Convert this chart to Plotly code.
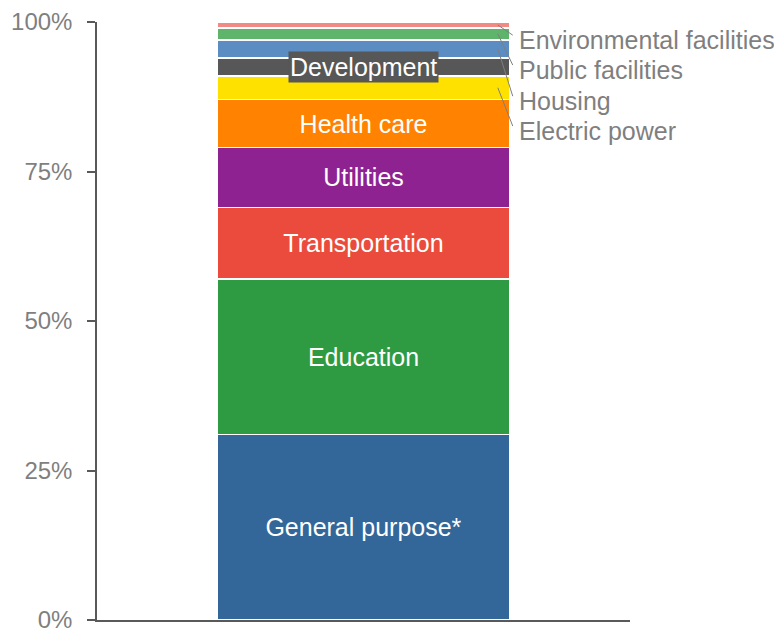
import plotly.graph_objects as go

categories = ["General purpose*", "Education", "Transportation", "Utilities", "Health care",
              "Electric power", "Development", "Housing", "Public facilities", "Environmental facilities"]
shares = [31, 26, 12, 10, 8, 4, 3, 3, 2, 1]
inside_labels = ["General purpose*", "Education", "Transportation", "Utilities", "Health care",
                 "", "", "", "", ""]
colors = ["#336699", "#2e9a42", "#ea4b3c", "#8e2291", "#ff8200",
          "#ffe100", "#575757", "#5b8cc2", "#5db46a", "#f28a84"]
side_labels = ["Environmental facilities", "Public facilities", "Housing", "Electric power"]
side_label_y = [97, 92, 86.8, 81.8]
side_sources = ["Environmental facilities", "Public facilities", "Housing", "Electric power"]
tick_vals = [0, 25, 50, 75, 100]
tick_text = ["0%", "25%", "50%", "75%", "100%"]

FONT = "Liberation Sans, Arial, sans-serif"
fig = go.Figure()
for cat, val, lab, col in zip(categories, shares, inside_labels, colors):
    fig.add_trace(go.Bar(
        x=[0], y=[val], name=cat, width=0.548,
        marker=dict(color=col, line=dict(color="white", width=1.5)),
        text=[lab], textposition="inside", insidetextanchor="middle", textangle=0,
        textfont=dict(family=FONT, size=25, color="white"),
        hoverinfo="name+y", showlegend=False,
    ))

# cumulative positions
cum = []
s = 0
for v in shares:
    cum.append((s, s + v))
    s += v
mid = {c: (a + b) / 2 for c, (a, b) in zip(categories, cum)}

# Development label with dark box
fig.add_annotation(x=0, y=mid["Development"], xref="x", yref="y", text="Development",
                   showarrow=False, bgcolor="#575757", font=dict(family=FONT, size=25, color="white"),
                   borderpad=1)

# side labels and leader lines
for lab, ly, src in zip(side_labels, side_label_y, side_sources):
    fig.add_annotation(x=0.288, y=ly, xref="x", yref="y", text=lab, xanchor="left", yanchor="middle",
                       showarrow=False, font=dict(family=FONT, size=25, color="#7f7f7f"))
    fig.add_shape(type="line", xref="x", yref="y", x0=0.252, y0=mid[src], x1=0.28, y1=ly + 0.8,
                  line=dict(color="#7f7f7f", width=1))

fig.update_layout(
    barmode="stack", width=782, height=631,
    margin=dict(l=89, r=160, t=14, b=19),
    plot_bgcolor="white", paper_bgcolor="white",
    xaxis=dict(range=[-0.5, 0.5], showticklabels=False, showgrid=False, zeroline=False,
               showline=True, linecolor="#595959", linewidth=1.5, ticks="", automargin=False),
    yaxis=dict(range=[0, 100], tickvals=tick_vals, ticktext=tick_text, showgrid=False, zeroline=False,
               showline=True, linecolor="#595959", linewidth=1.5, ticks="outside", ticklen=8,
               tickcolor="#595959", tickwidth=1.5, ticklabelstandoff=10, automargin=False,
               tickfont=dict(family=FONT, size=24, color="#7f7f7f")),
    font=dict(family=FONT),
)
fig.write_html("out.html")
